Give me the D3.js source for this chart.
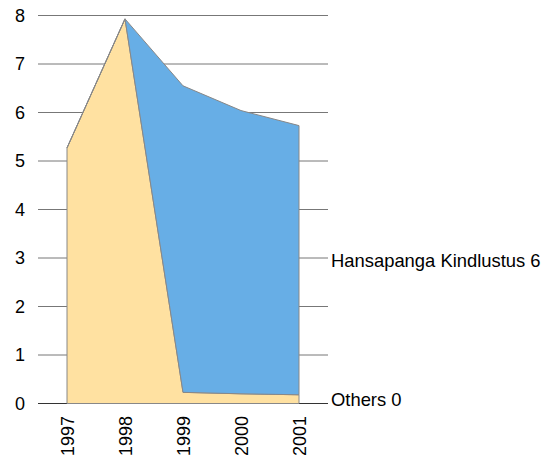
<!DOCTYPE html>
<html>
<head>
<meta charset="utf-8">
<script src="https://cdn.jsdelivr.net/npm/d3@7"></script>
<style>
  html, body { margin: 0; padding: 0; background: #fff; }
  text { font-family: "Liberation Sans", Arial, sans-serif; font-size: 18px; fill: #000; }
  .series-label { font-size: 18.4px; }
</style>
</head>
<body>
<svg id="chart" width="556" height="468"></svg>
<script>
// data
var years = ['1997', '1998', '1999', '2000', '2001'];
var others = [5.27, 7.93, 0.23, 0.20, 0.18];
var hansa = [0, 0, 6.32, 5.84, 5.55];
var seriesNames = ['Others', 'Hansapanga Kindlustus'];
var yTicks = [0, 1, 2, 3, 4, 5, 6, 7, 8];

var rows = years.map(function (y, i) {
    return { year: y, 'Others': others[i], 'Hansapanga Kindlustus': hansa[i] };
});

var svg = d3.select('#chart');
var plotLeft = 38, plotRight = 328, plotTop = 15.5, plotBottom = 403.5;

var x = d3.scalePoint().domain(years).range([plotLeft, plotRight]).padding(0.5);
var y = d3.scaleLinear().domain([0, 8]).range([plotBottom, plotTop]);

var stacked = d3.stack().keys(seriesNames)(rows);
var colors = { 'Others': '#ffe1a1', 'Hansapanga Kindlustus': '#67aee6' };

// grid lines (behind the areas)
svg.append('g')
  .selectAll('line')
    .data(yTicks)
  .enter().append('line')
    .attr('x1', plotLeft).attr('x2', plotRight)
    .attr('y1', function (d) { return y(d); })
    .attr('y2', function (d) { return y(d); })
    .attr('stroke', function (d) { return d === 0 ? '#333' : '#777'; })
    .attr('stroke-width', 1);

var area = d3.area()
    .x(function (d) { return x(d.data.year); })
    .y0(function (d) { return y(d[0]); })
    .y1(function (d) { return y(d[1]); });

svg.append('g')
  .selectAll('path')
    .data(stacked)
  .enter().append('path')
    .attr('d', area)
    .attr('fill', function (d) { return colors[d.key]; })
    .attr('stroke', '#888')
    .attr('stroke-width', 1)
    .attr('stroke-linejoin', 'miter');

// y tick labels
svg.append('g')
  .selectAll('text')
    .data(yTicks)
  .enter().append('text')
    .attr('x', 25)
    .attr('y', function (d) { return y(d); })
    .attr('dy', '0.35em')
    .attr('text-anchor', 'end')
    .text(function (d) { return d; });

// x labels, rotated
svg.append('g')
  .selectAll('text')
    .data(years)
  .enter().append('text')
    .attr('transform', function (d) { return 'translate(' + (x(d) + 1) + ',416) rotate(-90)'; })
    .attr('dy', '0.35em')
    .attr('text-anchor', 'end')
    .text(function (d) { return d; });

// series labels at the right end
var last = years.length - 1;
svg.append('g')
  .selectAll('text')
    .data(stacked)
  .enter().append('text')
    .attr('class', 'series-label')
    .attr('x', 331)
    .attr('y', function (s) { return y((s[last][0] + s[last][1]) / 2); })
    .attr('dy', '0.35em')
    .text(function (s) { return s.key + ' ' + Math.round(s[last].data[s.key]); });
</script>
</body>
</html>
